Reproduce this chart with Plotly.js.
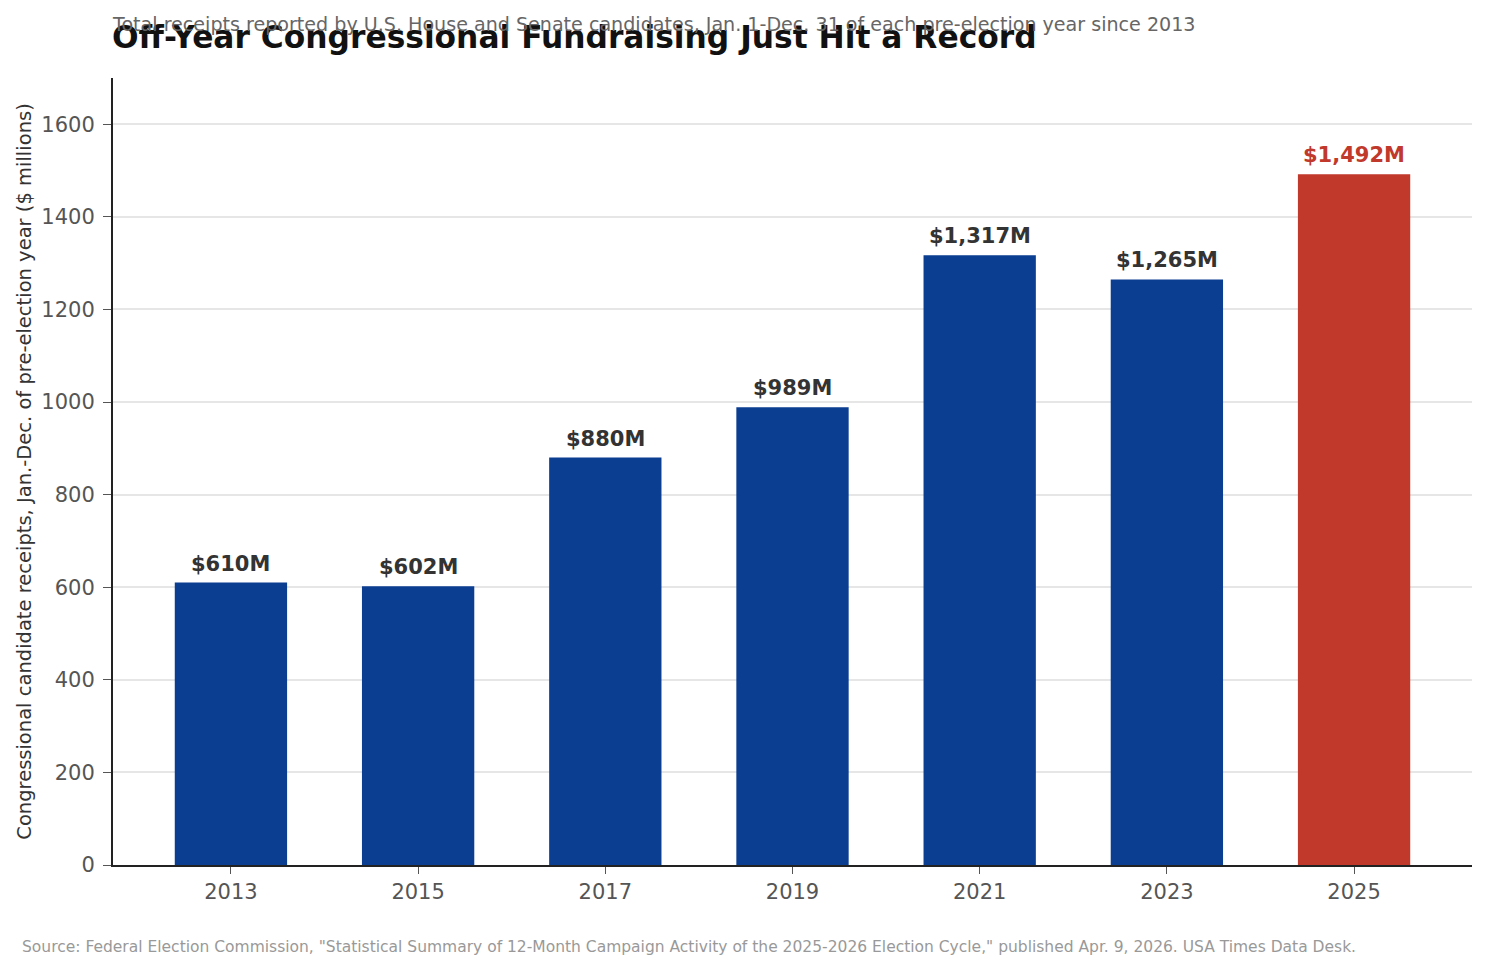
<!DOCTYPE html>
<html lang="en">
<head>
    <meta charset="UTF-8">
    <title>Off-Year Congressional Fundraising</title>
    <script src="https://cdn.plot.ly/plotly-3.0.1.min.js"></script>
    <style>
        html, body { margin: 0; padding: 0; background: #fff; }
        #chart { width: 1488px; height: 971px; }
    </style>
</head>
<body>
<div id="chart"></div>

<script>
    // pre-election years and total receipts ($ millions)
    let years = ['2013', '2015', '2017', '2019', '2021', '2023', '2025'];
    let receipts = [610, 602, 880, 989, 1317, 1265, 1492];
    let labels = ['$610M', '$602M', '$880M', '$989M', '$1,317M', '$1,265M', '$1,492M'];

    let blue = '#0b3d91';
    let red = '#c0392b';
    let lastIdx = years.length - 1;

    let barColors = years.map((y, i) => i === lastIdx ? red : blue);

    let trace = {
        x: years,
        y: receipts,
        type: 'bar',
        width: 0.6,
        marker: {color: barColors, line: {width: 0}},
        hoverinfo: 'x+y'
    };

    // value labels above each bar (x given as category index)
    let barLabels = years.map((y, i) => ({
        x: i,
        y: receipts[i],
        xref: 'x',
        yref: 'y',
        text: '<b>' + labels[i] + '</b>',
        showarrow: false,
        yanchor: 'bottom',
        yshift: 5,
        font: {family: 'DejaVu Sans', size: 21, color: i === lastIdx ? red : '#333333'}
    }));

    let layout = {
        width: 1488,
        height: 971,
        margin: {l: 113, r: 16, t: 78, b: 106},
        paper_bgcolor: '#ffffff',
        plot_bgcolor: '#ffffff',
        font: {family: 'DejaVu Sans', color: '#555555'},
        showlegend: false,
        title: {
            text: '<b>Off-Year Congressional Fundraising Just Hit a Record</b>',
            font: {family: 'DejaVu Sans', size: 31.3, color: '#111111'},
            x: 112 / 1488,
            xanchor: 'left',
            xref: 'container',
            y: 1 - 37 / 971,
            yanchor: 'middle',
            yref: 'container'
        },
        xaxis: {
            type: 'category',
            range: [-0.63, 6.63],
            showline: true,
            linecolor: '#222222',
            linewidth: 2,
            ticks: 'outside',
            ticklen: 7,
            tickcolor: '#555555',
            tickfont: {family: 'DejaVu Sans', size: 21, color: '#555555'},
            showgrid: false,
            zeroline: false
        },
        yaxis: {
            range: [0, 1700],
            tickvals: [0, 200, 400, 600, 800, 1000, 1200, 1400, 1600],
            showline: true,
            linecolor: '#222222',
            linewidth: 2,
            ticks: 'outside',
            ticklen: 8,
            ticklabelstandoff: 4,
            tickcolor: '#555555',
            tickfont: {family: 'DejaVu Sans', size: 21, color: '#555555'},
            showgrid: true,
            gridcolor: '#e6e6e6',
            gridwidth: 2,
            zeroline: false,
            title: {
                text: 'Congressional candidate receipts, Jan.-Dec. of pre-election year ($ millions)',
                font: {family: 'DejaVu Sans', size: 19.5, color: '#333333'},
                standoff: 5
            }
        },
        annotations: barLabels.concat([
            {
                text: 'Total receipts reported by U.S. House and Senate candidates, Jan. 1-Dec. 31 of each pre-election year since 2013',
                xref: 'paper', yref: 'paper',
                x: -3 / 1359, xanchor: 'left',
                y: 1 + (78 - 25) / 787, yanchor: 'middle',
                showarrow: false,
                font: {family: 'DejaVu Sans', size: 19.1, color: '#666666'}
            },
            {
                text: 'Source: Federal Election Commission, "Statistical Summary of 12-Month Campaign Activity of the 2025-2026 Election Cycle," published Apr. 9, 2026. USA Times Data Desk.',
                xref: 'paper', yref: 'paper',
                x: (20 - 113) / 1359, xanchor: 'left',
                y: -(947 - 865) / 787, yanchor: 'middle',
                showarrow: false,
                font: {family: 'DejaVu Sans', size: 15.5, color: '#999999'}
            }
        ])
    };

    Plotly.newPlot('chart', [trace], layout, {displayModeBar: false, responsive: false});
</script>
</body>
</html>
